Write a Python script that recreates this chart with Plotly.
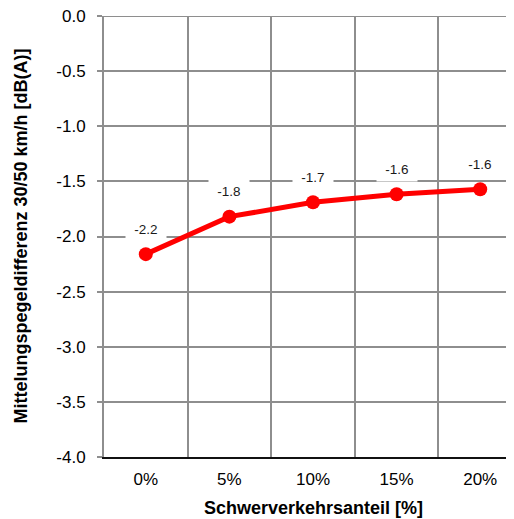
import plotly.graph_objects as go

categories = ["0%", "5%", "10%", "15%", "20%"]
values = [-2.16, -1.82, -1.69, -1.617, -1.572]
labels = ["-2.2", "-1.8", "-1.7", "-1.6", "-1.6"]
y_ticks = [0.0, -0.5, -1.0, -1.5, -2.0, -2.5, -3.0, -3.5, -4.0]
y_ticktext = ["0.0", "-0.5", "-1.0", "-1.5", "-2.0", "-2.5", "-3.0", "-3.5", "-4.0"]

FONT = "Liberation Sans, Arial, sans-serif"
GRID = "#8e8e8e"

# page body has an 8px margin; figure coordinates are offset accordingly
L, T, W, H = 96, 8, 514, 519
B = 70
PW, PH = W - L, H - T - B

fig = go.Figure()
fig.add_trace(go.Scatter(
    x=categories, y=values, mode="lines+markers",
    line=dict(color="#ff0000", width=5),
    marker=dict(color="#ff0000", size=14),
    showlegend=False, hoverinfo="skip",
))

for c, v, t in zip(categories, values, labels):
    fig.add_annotation(
        x=c, y=v, text=t, showarrow=False, yshift=25,
        font=dict(family=FONT, size=13.5, color="#1a1a1a"),
        bgcolor="white", width=38, height=21, borderpad=1,
    )

# top gridline at the range maximum (Plotly omits it at the edge)
fig.add_shape(
    type="line", xref="paper", x0=0, x1=1, yref="y",
    y0=max(y_ticks), y1=max(y_ticks),
    line=dict(color=GRID, width=2), layer="below",
)

fig.add_annotation(
    xref="paper", yref="paper", x=(12 - L) / PW, y=0.5,
    text="<b>Mittelungspegeldifferenz 30/50 km/h [dB(A)]</b>", textangle=-90,
    showarrow=False, xanchor="center", yanchor="middle",
    font=dict(family=FONT, size=18, color="black"),
)
fig.add_annotation(
    xref="paper", yref="paper", x=0.5, y=(PH + T - 500) / PH,
    text="<b>Schwerverkehrsanteil [%]</b>",
    showarrow=False, xanchor="center", yanchor="middle",
    font=dict(family=FONT, size=18, color="black"),
)

fig.update_layout(
    width=W, height=H,
    margin=dict(l=L, r=0, t=T, b=B),
    paper_bgcolor="white", plot_bgcolor="white",
    font=dict(family=FONT, color="black"),
    xaxis=dict(
        type="category", categoryorder="array", categoryarray=categories,
        range=[-0.5, 4.5],
        tickson="boundaries", ticks="",
        showgrid=True, gridcolor=GRID, gridwidth=2,
        showline=True, linecolor="#111111", linewidth=2,
        tickfont=dict(family=FONT, size=17, color="black"),
        ticklabelstandoff=6,
    ),
    yaxis=dict(
        range=[-4, 0], tickvals=y_ticks, ticktext=y_ticktext,
        showgrid=True, gridcolor=GRID, gridwidth=2, zeroline=False,
        showline=True, linecolor=GRID, linewidth=2,
        ticks="outside", ticklen=5, tickwidth=2, tickcolor=GRID,
        tickfont=dict(family=FONT, size=17, color="black"),
        ticklabelstandoff=8, ticklabeloverflow="allow",
    ),
)

fig.write_html("out.html")
